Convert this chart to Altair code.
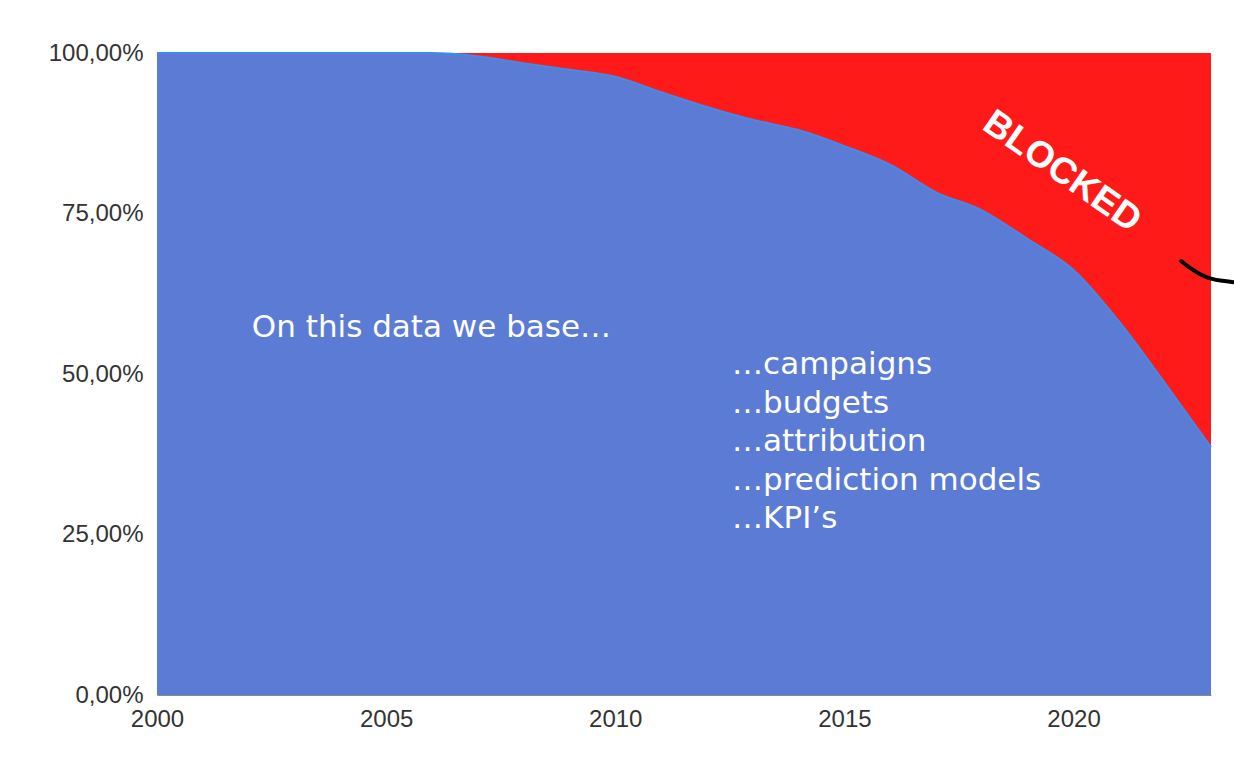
import altair as alt
import pandas as pd

years = list(range(2000, 2024))
share = [1.0, 1.0, 1.0, 1.0, 1.0, 1.0, 1.0, 0.995, 0.984, 0.974, 0.963,
         0.939, 0.916, 0.896, 0.880, 0.855, 0.826, 0.783, 0.755, 0.710,
         0.662, 0.581, 0.485, 0.386]

intro_text = ["On this data we base…"]
intro_x = [2002.07]
intro_y = [0.572]

list_text = ["…campaigns", "…budgets", "…attribution", "…prediction models", "…KPI’s"]
list_x = [2012.55] * 5
list_y = [0.514, 0.453, 0.394, 0.333, 0.274]

blocked_text = ["BLOCKED"]
blocked_x = [2019.75]
blocked_y = [0.815]

arc_x = [2022.35, 2022.54, 2022.76, 2023.0, 2023.24, 2023.5]
arc_y = [0.676, 0.665, 0.655, 0.648, 0.645, 0.643]

df = pd.DataFrame({"year": years, "share": share})
intro = pd.DataFrame({"t": intro_text, "x": intro_x, "y": intro_y})
lst = pd.DataFrame({"t": list_text, "x": list_x, "y": list_y})
blk = pd.DataFrame({"t": blocked_text, "x": blocked_x, "y": blocked_y})
arc = pd.DataFrame({"x": arc_x, "y": arc_y, "o": list(range(len(arc_x)))})

xscale = alt.Scale(domain=[2000, 2023], nice=False, zero=False)
yscale = alt.Scale(domain=[0, 1], nice=False)

xenc = alt.X("year:Q", scale=xscale,
             axis=alt.Axis(values=[2000, 2005, 2010, 2015, 2020], format="d",
                           title=None, grid=False, ticks=False, labelPadding=12,
                           labelFontSize=24, labelColor="#333333", labelAlign="center",
                           labelFlush=False,
                           labelFont="Liberation Sans", domainColor="#8a8a8a"))
yenc = alt.Y("share:Q", scale=yscale,
             axis=alt.Axis(values=[0, 0.25, 0.5, 0.75, 1], title=None, grid=False,
                           ticks=False, labelPadding=14, labelFontSize=24,
                           labelColor="#333333", labelFont="Liberation Sans",
                           domainColor="#aaaaaa",
                           labelExpr="replace(format(datum.value, '.2%'), '.', ',')"))

red = alt.Chart(df).mark_area(color="#ff1a1a", interpolate="monotone", opacity=1).encode(
    x=xenc, y=yenc, y2=alt.datum(1))
blue = alt.Chart(df).mark_area(color="#5b7bd5", interpolate="monotone", opacity=1).encode(
    x=xenc, y=yenc)
edge = alt.Chart(df).mark_line(color="#3f8ceb", strokeWidth=2, interpolate="monotone").encode(
    x=xenc, y=yenc)

t1 = alt.Chart(intro).mark_text(align="left", baseline="middle", color="white",
                                font="DejaVu Sans", fontSize=31).encode(
    x=alt.X("x:Q", scale=xscale), y=alt.Y("y:Q", scale=yscale), text="t:N")
t2 = alt.Chart(lst).mark_text(align="left", baseline="middle", color="white",
                              font="DejaVu Sans", fontSize=31).encode(
    x=alt.X("x:Q", scale=xscale), y=alt.Y("y:Q", scale=yscale), text="t:N")
t3 = alt.Chart(blk).mark_text(align="center", baseline="middle", color="white",
                              font="Liberation Sans", fontWeight="bold", fontSize=37,
                              angle=35).encode(
    x=alt.X("x:Q", scale=xscale), y=alt.Y("y:Q", scale=yscale), text="t:N")
arc_line = alt.Chart(arc).mark_line(color="black", strokeWidth=4, clip=False,
                                    interpolate="basis", strokeCap="round").encode(
    x=alt.X("x:Q", scale=xscale), y=alt.Y("y:Q", scale=yscale), order="o:Q")

chart = alt.layer(red, blue, edge, t1, t2, t3, arc_line).properties(
    width=1054, height=642,
    autosize=alt.AutoSizeParams(type="none"),
    padding={"left": 157, "top": 53, "right": 23, "bottom": 72},
    background="white",
).configure_view(stroke=None)

chart.save("out.html", embed_options={"renderer": "svg", "actions": False})
